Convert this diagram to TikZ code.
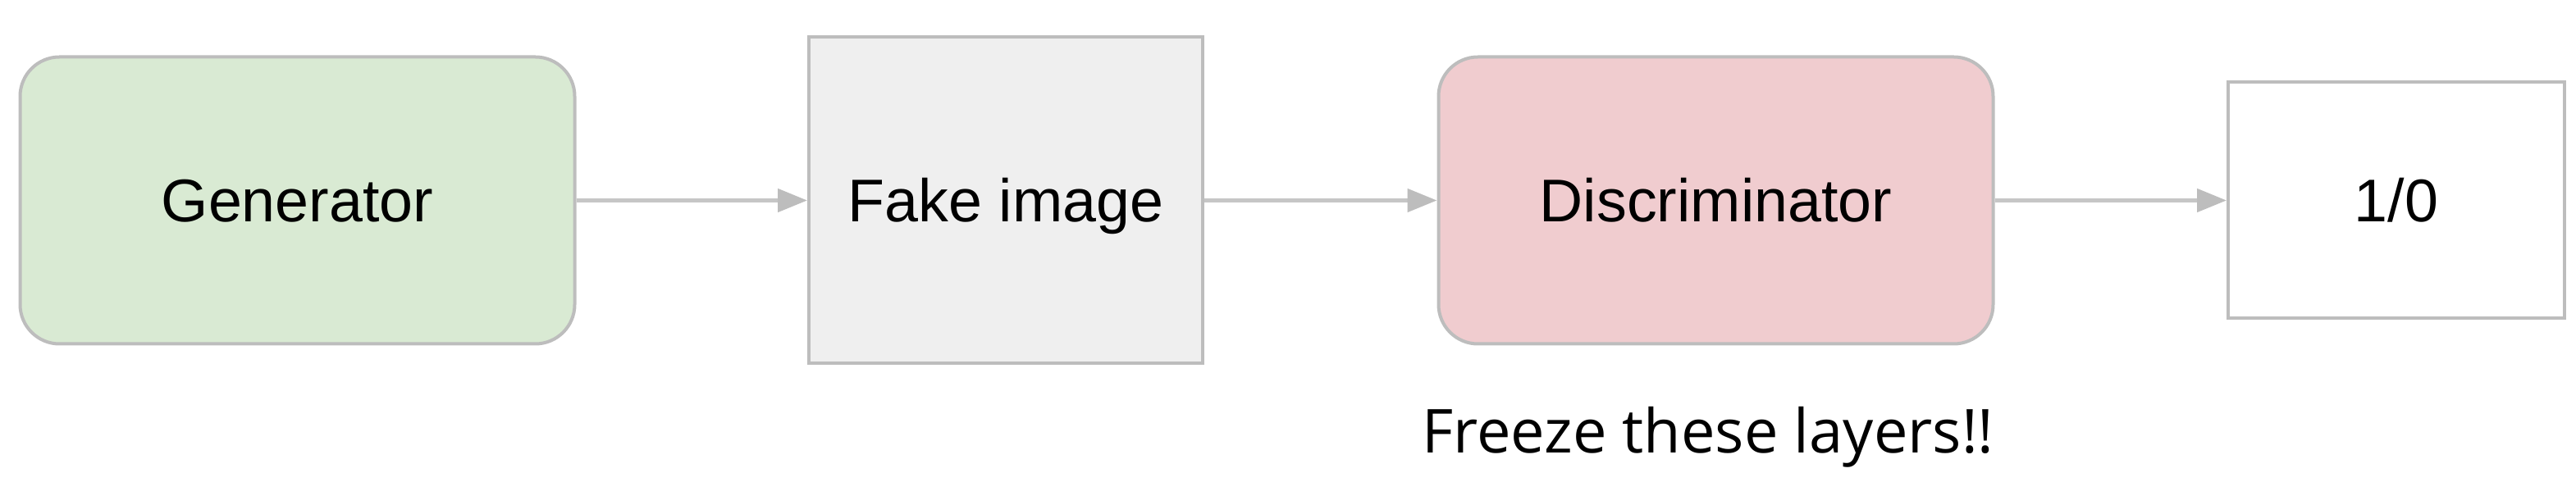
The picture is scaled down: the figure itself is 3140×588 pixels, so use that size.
\documentclass[tikz,border=0pt]{standalone}
\usepackage{fontspec}
\setmainfont{Liberation Sans}
\newfontfamily\freezefont{Open Sans}
\usetikzlibrary{arrows.meta}
\definecolor{genfill}{HTML}{D9EAD3}
\definecolor{fakefill}{HTML}{EFEFEF}
\definecolor{discfill}{HTML}{F0CCCF}
\definecolor{boxline}{HTML}{BDBDBD}
\definecolor{arrline}{HTML}{C6C6C6}
\tikzset{
  px/.style={x=0.25pt,y=0.25pt},
  block/.style={draw=boxline, line width=1pt, inner sep=0pt,
    font=\fontsize{18.4pt}{22pt}\selectfont, text height=13.2pt, text depth=0pt},
  roundblock/.style={block, rounded corners=12pt},
  flow/.style={draw=arrline, line width=1.2pt,
    -{Triangle[length=9pt,width=7pt,color=boxline]}}
}
\begin{document}
\begin{tikzpicture}[px]
\useasboundingbox (0,0) rectangle (3140,588);
\node[roundblock, fill=genfill, minimum width=169pt, minimum height=87.5pt] (gen) at (362.5,343.5) {Generator};
\node[block, fill=fakefill, minimum width=120pt, minimum height=99.5pt] (fake) at (1226,344) {Fake image};
\node[roundblock, fill=discfill, minimum width=169pt, minimum height=87.5pt] (disc) at (2091.5,343.5) {Discriminator};
\node[block, fill=white, minimum width=102.5pt, minimum height=72pt] (out) at (2921,344) {1/0};
\node[anchor=base, font=\freezefont\fontsize{18.5pt}{22pt}\selectfont, inner sep=0pt] (freeze) at (2082,35) {Freeze these layers!!};
\draw[flow] (gen.east) -- (gen.east -| fake.west);
\draw[flow] (fake.west -| fake.east) ++(0,-0.5) coordinate (f1) (f1) -- (f1 -| disc.west);
\draw[flow] (disc.east) -- (disc.east -| out.west);
\end{tikzpicture}
\end{document}
